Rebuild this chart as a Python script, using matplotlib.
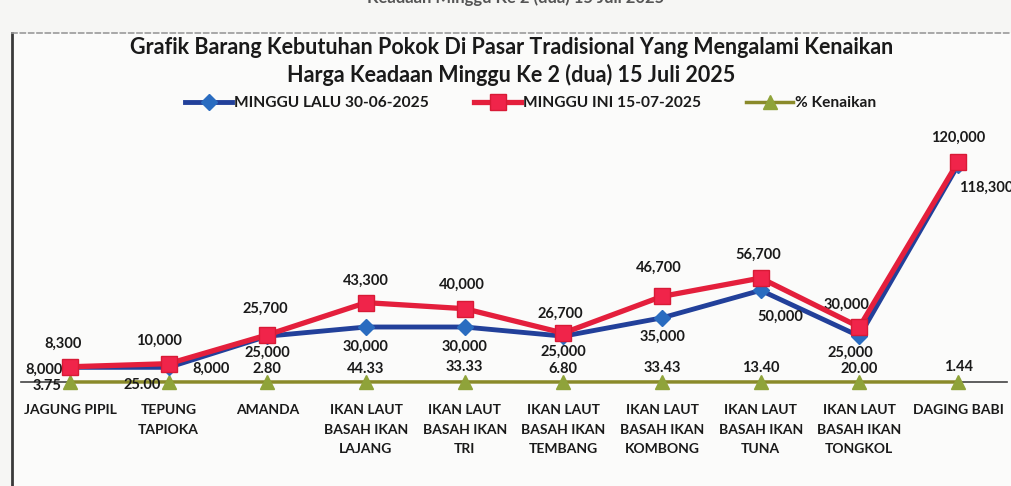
import matplotlib
matplotlib.use("Agg")
from matplotlib import pyplot as plt

# data
kategori = ["JAGUNG PIPIL", "TEPUNG\nTAPIOKA", "AMANDA",
            "IKAN LAUT\nBASAH IKAN\nLAJANG", "IKAN LAUT\nBASAH IKAN\nTRI",
            "IKAN LAUT\nBASAH IKAN\nTEMBANG", "IKAN LAUT\nBASAH IKAN\nKOMBONG",
            "IKAN LAUT\nBASAH IKAN\nTUNA", "IKAN LAUT\nBASAH IKAN\nTONGKOL",
            "DAGING BABI"]
minggu_lalu = [8000, 8000, 25000, 30000, 30000, 25000, 35000, 50000, 25000, 118300]
minggu_ini = [8300, 10000, 25700, 43300, 40000, 26700, 46700, 56700, 30000, 120000]
kenaikan = [3.75, 25.00, 2.80, 44.33, 33.33, 6.80, 33.43, 13.40, 20.00, 1.44]

# label offsets in pixels (dx, dy)
off_lalu = [(-26, -2), (42, -1), (0, -17), (0, -20), (0, -20), (0, -16),
            (0, -19), (20, -26), (-9, -17), (28, -23)]
off_ini = [(-7, 23), (-10, 23), (-2, 26), (0, 22), (-3, 24), (-3, 19),
           (-3, 29), (-2, 23), (-13, 22), (0, 24)]
off_pct = [(-23, -4), (-26, -3), (0, 13), (0, 13), (0, 15), (0, 13),
           (0, 14), (0, 14), (0, 13), (0, 15)]

plt.rcParams['font.family'] = ['Lato', 'DejaVu Sans']
plt.rcParams['font.weight'] = 'bold'
txt = '#1a1a1a'

fig = plt.figure(figsize=(10.11, 4.86), dpi=100)
fig.patch.set_facecolor('#f6f6f4')
ax = fig.add_axes([12 / 1011, 0, 1 - 12 / 1011, 1 - 33 / 486])
ax.set_facecolor('#fbfbfa')

x = list(range(len(kategori)))
ax.plot(x, kenaikan, color='#8a8a2a', lw=2.5, marker='^', ms=10,
        mfc='#8fa33a', mec='#8fa33a', label='% Kenaikan', zorder=2)
ax.plot(x, minggu_lalu, color='#22409a', lw=3.5, marker='D', ms=8,
        mfc='#2a6cc0', mec='#2a6cc0', label='MINGGU LALU 30-06-2025', zorder=3)
ax.plot(x, minggu_ini, color='#e41f3c', lw=3.8, marker='s', ms=12,
        mfc='#f0244a', mec='#d81a36', label='MINGGU INI 15-07-2025', zorder=4)

for i in x:
    ax.annotate(f"{minggu_lalu[i]:,}", (i, minggu_lalu[i]), xytext=off_lalu[i],
                textcoords='offset pixels', ha='center', va='center',
                fontsize=10.5, color=txt)
    ax.annotate(f"{minggu_ini[i]:,}", (i, minggu_ini[i]), xytext=off_ini[i],
                textcoords='offset pixels', ha='center', va='center',
                fontsize=10.5, color=txt)
    ax.annotate(f"{kenaikan[i]:.2f}", (i, kenaikan[i]), xytext=off_pct[i],
                textcoords='offset pixels', ha='center', va='center',
                fontsize=10.5, color=txt)
    # category names under the axis line
    ax.annotate(kategori[i], (i, 0), xytext=(0, -22), textcoords='offset pixels',
                ha='center', va='top', fontsize=10, color=txt, linespacing=1.75)

ax.set_xlim((12 - 70) / 98.67, (1011 - 70) / 98.67)
ax.set_ylim(-104 / 0.001833, (382 - 33) / 0.001833)
ax.set_yticks([])
ax.set_xticks([])

ax.spines['right'].set_visible(False)
ax.spines['bottom'].set_position(('data', 0))
ax.spines['bottom'].set_bounds(-0.5, 9.5)
ax.spines['bottom'].set_color('#444444')
ax.spines['bottom'].set_linewidth(1.2)
ax.spines['bottom'].set_zorder(1)
ax.spines['left'].set_color('#3a3a3a')
ax.spines['left'].set_linewidth(2)
ax.spines['top'].set_color('#9a9a9a')
ax.spines['top'].set_linestyle((0, (3, 2)))
ax.spines['top'].set_linewidth(1.2)

fig.text(0.51, 1.005, "Keadaan Minggu Ke 2 (dua) 15 Juli 2025",
         ha='center', va='center', fontsize=12, color='#555555')
fig.text(512 / 1011, 1 - 47 / 486,
         "Grafik Barang Kebutuhan Pokok Di Pasar Tradisional Yang Mengalami Kenaikan",
         ha='center', va='center', fontsize=15.5, color=txt)
fig.text(511 / 1011, 1 - 75 / 486, "Harga Keadaan Minggu Ke 2 (dua) 15 Juli 2025",
         ha='center', va='center', fontsize=15.5, color=txt)

h, l = ax.get_legend_handles_labels()
order = [1, 2, 0]
fig.legend([h[k] for k in order], [l[k] for k in order], ncol=3, frameon=False,
           loc='center', bbox_to_anchor=(531 / 1011, 1 - 103 / 486),
           fontsize=11.2, handlelength=3.0, handletextpad=0.15, columnspacing=2.9,
           labelcolor=txt)

plt.savefig('out.png', dpi=100, facecolor=fig.get_facecolor())
